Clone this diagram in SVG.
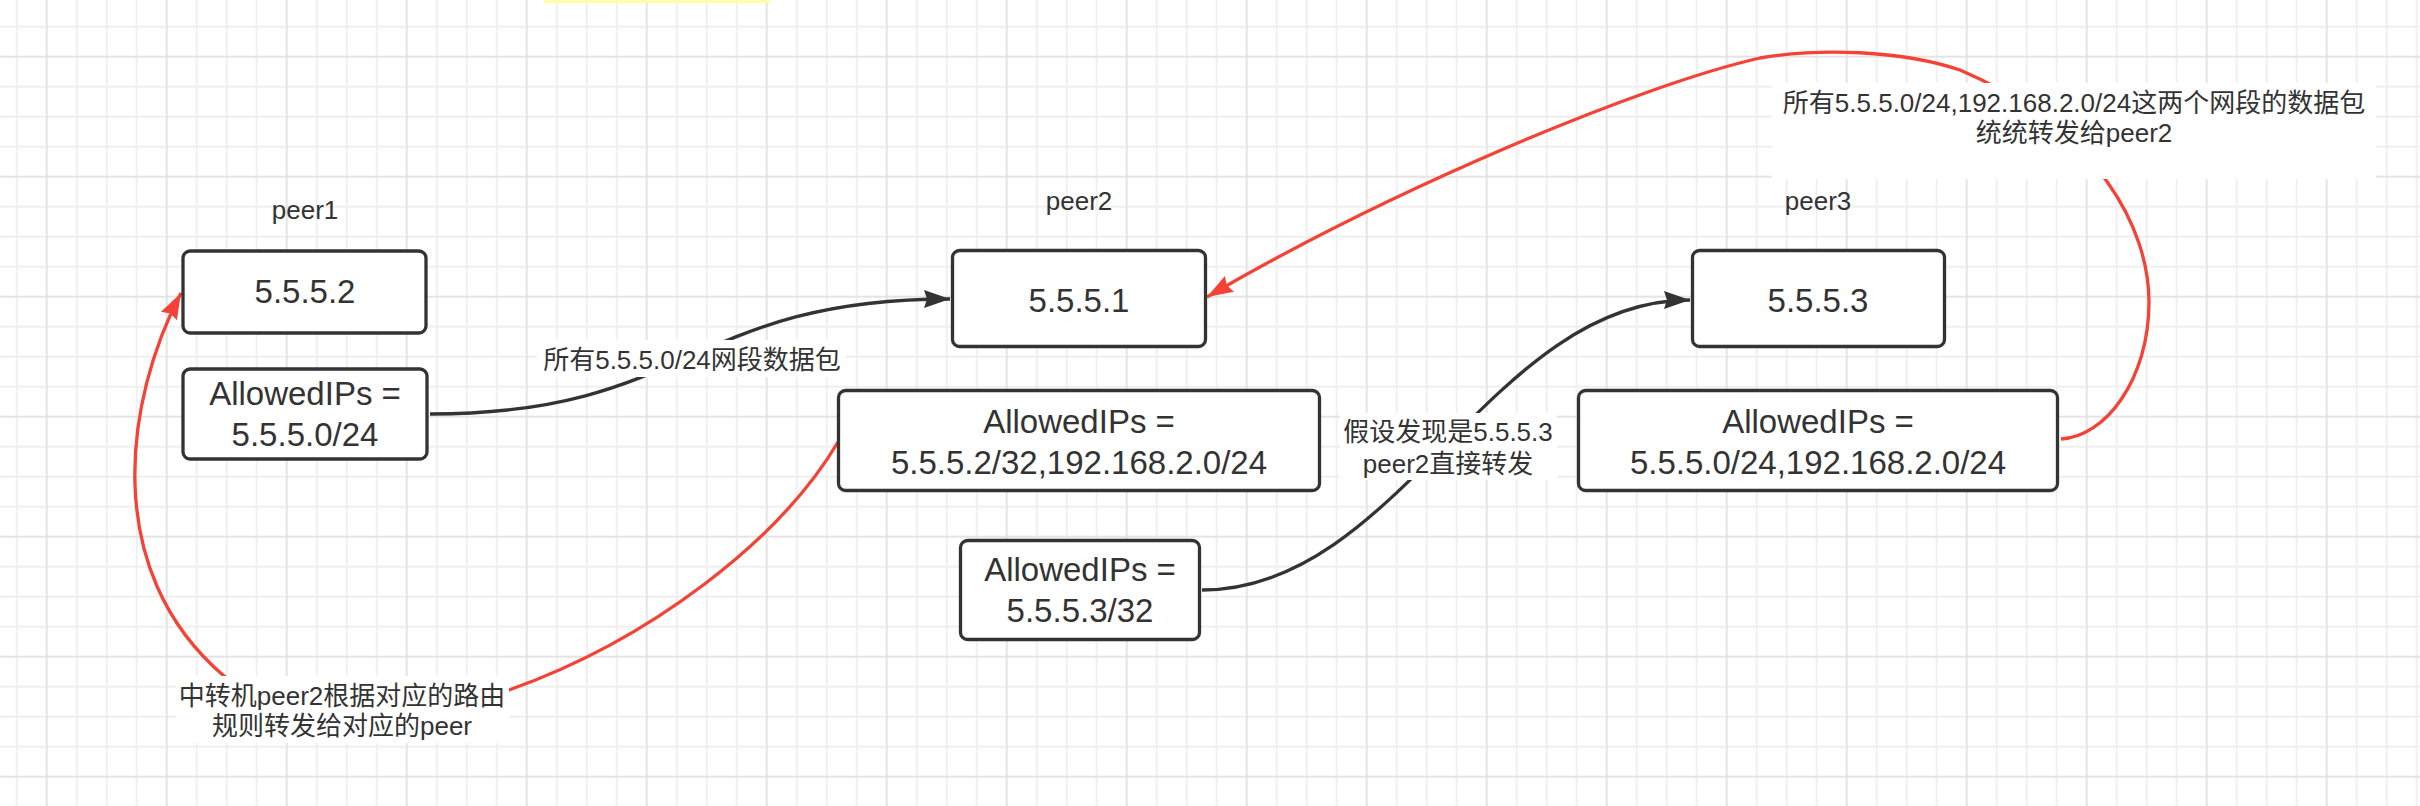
<svg xmlns="http://www.w3.org/2000/svg" width="2420" height="806" viewBox="0 0 2420 806">
  <style>
    .box { fill: #ffffff; stroke: #333333; stroke-width: 3.3; }
    .t { font-family: "Liberation Sans", "Noto Sans CJK SC", sans-serif; fill: #333333; text-anchor: middle; }
    .big { font-size: 33px; }
    .small { font-size: 26px; }
    .edge { fill: none; stroke-width: 3.3; stroke-linecap: butt; }
    .blk { stroke: #333333; }
    .red { stroke: #f44336; }
    .lblbg { fill: #ffffff; }
  </style>
  <defs>
    <pattern id="grid" x="45.7" y="55.7" width="120" height="120" patternUnits="userSpaceOnUse">
      <path d="M31 0V120M61 0V120M91 0V120M0 31H120M0 61H120M0 91H120" stroke="#efefef" stroke-width="1.8" fill="none"/>
      <path d="M1 0V120M0 1H120" stroke="#e4e4e4" stroke-width="2" fill="none"/>
    </pattern>
    <marker id="arrBlack" viewBox="0 0 26 18" refX="26" refY="9" markerWidth="26" markerHeight="18" markerUnits="userSpaceOnUse" orient="auto">
      <path d="M26 9 L0 0 L3 9 L0 18 Z" fill="#333333"/>
    </marker>
    <marker id="arrRed" viewBox="0 0 26 18" refX="26" refY="9" markerWidth="26" markerHeight="18" markerUnits="userSpaceOnUse" orient="auto">
      <path d="M26 9 L0 0 L3 9 L0 18 Z" fill="#f44336"/>
    </marker>
  </defs>

  <rect x="0" y="0" width="2420" height="806" fill="#ffffff"/>
  <rect x="0" y="0" width="2420" height="806" fill="url(#grid)"/>
  <rect x="544" y="0" width="226" height="3" fill="#ffffa8"/>

  <g id="connectors">
    <path id="e-peer1-peer2" class="edge blk" d="M430 414 C690 414 690 299 950 299" marker-end="url(#arrBlack)"/>
    <path id="e-peer2-peer3" class="edge blk" d="M1202 590 C1400 590 1490 300 1690 300" marker-end="url(#arrBlack)"/>
    <path id="e-peer3-peer2" class="edge red" d="M2061 439 C2105 437 2149 380 2149 302 C2149 230 2100 130 1960 70 C1900 50 1820 48 1760 58 C1640 85 1390 190 1207 297" marker-end="url(#arrRed)"/>
    <path id="e-peer2-peer1" class="edge red" d="M838 442 C780 540 650 640 509 690 C440 712 270 716 224 676 C100 570 125 400 181 293" marker-end="url(#arrRed)"/>
  </g>

  <g id="edge-labels">
    <g id="lbl-peer1-peer2">
      <rect class="lblbg" x="537" y="340" width="309" height="37"/>
      <text class="t small" x="692" y="369">所有5.5.5.0/24网段数据包</text>
    </g>
    <g id="lbl-peer2-peer3">
      <rect class="lblbg" x="1340" y="413" width="217" height="67"/>
      <text class="t small" x="1448" y="441">假设发现是5.5.5.3</text>
      <text class="t small" x="1448" y="473">peer2直接转发</text>
    </g>
    <g id="lbl-peer3-peer2">
      <rect class="lblbg" x="1772" y="83" width="604" height="96"/>
      <text class="t small" x="2074" y="112">所有5.5.5.0/24,192.168.2.0/24这两个网段的数据包</text>
      <text class="t small" x="2074" y="142">统统转发给peer2</text>
    </g>
    <g id="lbl-peer2-peer1">
      <rect class="lblbg" x="176" y="676" width="333" height="67"/>
      <text class="t small" x="342" y="705">中转机peer2根据对应的路由</text>
      <text class="t small" x="342" y="735">规则转发给对应的peer</text>
    </g>
  </g>

  <g id="peer1">
    <text class="t small" x="305" y="219">peer1</text>
    <g id="peer1-ip">
      <rect class="box" x="183" y="251" width="243" height="82" rx="7"/>
      <text class="t big" x="305" y="303">5.5.5.2</text>
    </g>
    <g id="peer1-allowed">
      <rect class="box" x="183" y="369" width="244" height="90" rx="7"/>
      <text class="t big" x="305" y="405">AllowedIPs =</text>
      <text class="t big" x="305" y="446">5.5.5.0/24</text>
    </g>
  </g>

  <g id="peer2">
    <text class="t small" x="1079" y="210">peer2</text>
    <g id="peer2-ip">
      <rect class="box" x="952.5" y="250.5" width="253" height="96" rx="7"/>
      <text class="t big" x="1079" y="312">5.5.5.1</text>
    </g>
    <g id="peer2-allowed-1">
      <rect class="box" x="838.5" y="390.5" width="481" height="100" rx="7"/>
      <text class="t big" x="1079" y="433">AllowedIPs =</text>
      <text class="t big" x="1079" y="474">5.5.5.2/32,192.168.2.0/24</text>
    </g>
    <g id="peer2-allowed-2">
      <rect class="box" x="960.5" y="540.5" width="239" height="99" rx="7"/>
      <text class="t big" x="1080" y="581">AllowedIPs =</text>
      <text class="t big" x="1080" y="622">5.5.5.3/32</text>
    </g>
  </g>

  <g id="peer3">
    <text class="t small" x="1818" y="210">peer3</text>
    <g id="peer3-ip">
      <rect class="box" x="1692.5" y="250.5" width="252" height="96" rx="7"/>
      <text class="t big" x="1818" y="312">5.5.5.3</text>
    </g>
    <g id="peer3-allowed">
      <rect class="box" x="1578.5" y="390.5" width="479" height="100" rx="7"/>
      <text class="t big" x="1818" y="433">AllowedIPs =</text>
      <text class="t big" x="1818" y="474">5.5.5.0/24,192.168.2.0/24</text>
    </g>
  </g>
</svg>
